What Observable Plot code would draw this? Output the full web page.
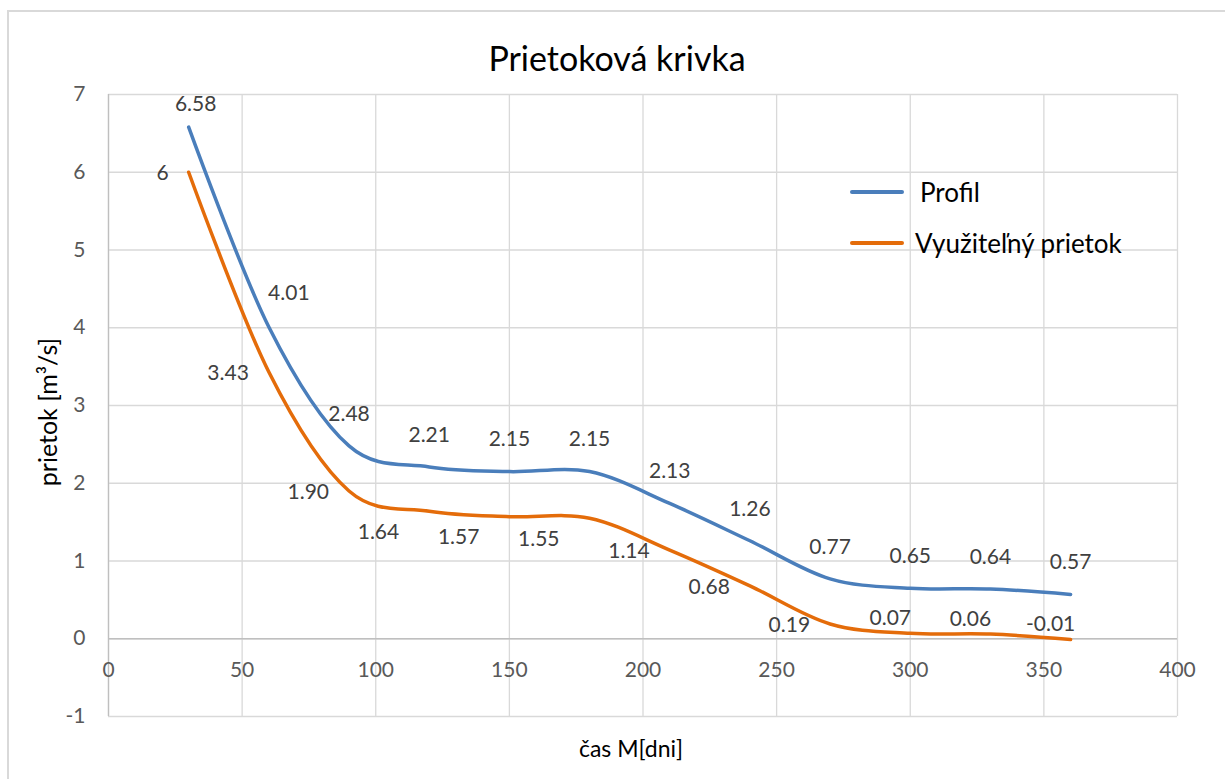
<!DOCTYPE html>
<html>
<head>
<meta charset="utf-8">
<script src="https://cdn.jsdelivr.net/npm/d3@7"></script>
<script src="https://cdn.jsdelivr.net/npm/@observablehq/plot@0.6"></script>
<style>
  html, body { margin: 0; padding: 0; background: #fff; }
  #wrap { position: relative; width: 1225px; height: 779px; overflow: hidden; font-family: Lato, "Open Sans", sans-serif; }
  #frame { position: absolute; left: 7px; top: 10px; width: 1300px; height: 900px; border: 2px solid #d9d9d9; box-sizing: border-box; }
  #chart { position: absolute; left: 0; top: 0; }
  .abs { position: absolute; white-space: nowrap; }
  #title { left: 617px; top: 57px; transform: translate(-50%, -50%); font-size: 34px; color: #000; }
  #xlabel { left: 631px; top: 748px; transform: translate(-50%, -50%); font-size: 23px; color: #000; }
  #ylabel { left: 47px; top: 412px; transform: translate(-50%, -50%) rotate(-90deg); font-size: 25px; color: #000; }
  .leg-line { position: absolute; width: 54px; height: 4px; border-radius: 2px; }
  .leg-text { position: absolute; font-size: 26px; color: #000; transform: translateY(-50%); white-space: nowrap; }
</style>
</head>
<body>
<div id="wrap">
  <div id="frame"></div>
  <div id="chart"></div>
  <div id="title" class="abs">Prietoková krivka</div>
  <div id="xlabel" class="abs">čas M[dni]</div>
  <div id="ylabel" class="abs">prietok [m³/s]</div>
  <div class="leg-line" style="left:850px; top:190px; background:#4A7EBB;"></div>
  <div class="leg-text" style="left:920px; top:192px;">Profil</div>
  <div class="leg-line" style="left:850px; top:241px; background:#E46C0A;"></div>
  <div class="leg-text" style="left:915px; top:243px;">Využiteľný prietok</div>
</div>
<script>
// Data
const days = [30, 60, 90, 120, 150, 180, 210, 240, 270, 300, 330, 360];
const profilValues = [6.58, 4.01, 2.48, 2.21, 2.15, 2.15, 1.74, 1.26, 0.77, 0.65, 0.64, 0.57];
const profilLabels = ["6.58", "4.01", "2.48", "2.21", "2.15", "2.15", "2.13", "1.26", "0.77", "0.65", "0.64", "0.57"];
const vyuzitelnyValues = [6, 3.43, 1.90, 1.64, 1.57, 1.55, 1.14, 0.68, 0.19, 0.07, 0.06, -0.01];
const vyuzitelnyLabels = ["6", "3.43", "1.90", "1.64", "1.57", "1.55", "1.14", "0.68", "0.19", "0.07", "0.06", "-0.01"];
const xTicks = [0, 50, 100, 150, 200, 250, 300, 350, 400];
const yTicks = [-1, 0, 1, 2, 3, 4, 5, 6, 7];

const profil = days.map((d, i) => ({x: d, y: profilValues[i], label: profilLabels[i], i}));
const vyuz = days.map((d, i) => ({x: d, y: vyuzitelnyValues[i], label: vyuzitelnyLabels[i], i}));

const BLUE = "#4A7EBB", ORANGE = "#E46C0A", GRID = "#d9d9d9", AXIS = "#bfbfbf", LBL = "#404040", TICK = "#595959";
const font = 21;

const chart = Plot.plot({
  width: 1225,
  height: 779,
  marginTop: 94,
  marginBottom: 63,
  marginLeft: 108,
  marginRight: 48,
  style: {fontFamily: "Lato, 'Open Sans', sans-serif", background: "transparent", overflow: "visible"},
  x: {domain: [0, 400], axis: null},
  y: {domain: [-1, 7], axis: null},
  marks: [
    Plot.ruleX(xTicks, {stroke: GRID, strokeWidth: 1.3}),
    Plot.ruleY(yTicks, {stroke: GRID, strokeWidth: 1.3}),
    Plot.ruleY([0], {stroke: AXIS, strokeWidth: 1.3}),
    Plot.ruleX([0], {stroke: AXIS, strokeWidth: 1.3}),
    Plot.text(yTicks, {x: 0, y: d => d, text: d => String(d), dx: -23, textAnchor: "end", fill: TICK, fontSize: font}),
    Plot.line(profil, {x: "x", y: "y", stroke: BLUE, strokeWidth: 3.5, curve: "cardinal", tension: 0, strokeLinecap: "round"}),
    Plot.line(vyuz, {x: "x", y: "y", stroke: ORANGE, strokeWidth: 3.5, curve: "cardinal", tension: 0, strokeLinecap: "round"}),
    Plot.text(xTicks, {x: d => d, y: 0, text: d => String(d), dy: 32, fill: TICK, fontSize: font}),
    // Profil labels (above)
    Plot.text(profil.filter(d => d.i === 0), {x: "x", y: "y", text: "label", dx: 7, dy: -23, fill: LBL, fontSize: font}),
    Plot.text(profil.filter(d => d.i === 1), {x: "x", y: "y", text: "label", dx: 20, dy: -34, fill: LBL, fontSize: font}),
    Plot.text(profil.filter(d => d.i > 1), {x: "x", y: "y", text: "label", dy: -32, fill: LBL, fontSize: font}),
    // Využiteľný prietok labels
    Plot.text(vyuz.filter(d => [0, 1, 2, 6, 7, 8].includes(d.i)), {x: "x", y: "y", text: "label", dx: -20, dy: 1, textAnchor: "end", fill: LBL, fontSize: font}),
    Plot.text(vyuz.filter(d => [3, 4, 5].includes(d.i)), {x: "x", y: "y", text: "label", dx: -30, dy: 21, textAnchor: "end", fill: LBL, fontSize: font}),
    Plot.text(vyuz.filter(d => d.i >= 9), {x: "x", y: "y", text: "label", dx: -20, dy: -15, fill: LBL, fontSize: font})
  ]
});
document.getElementById("chart").appendChild(chart);
</script>
</body>
</html>
